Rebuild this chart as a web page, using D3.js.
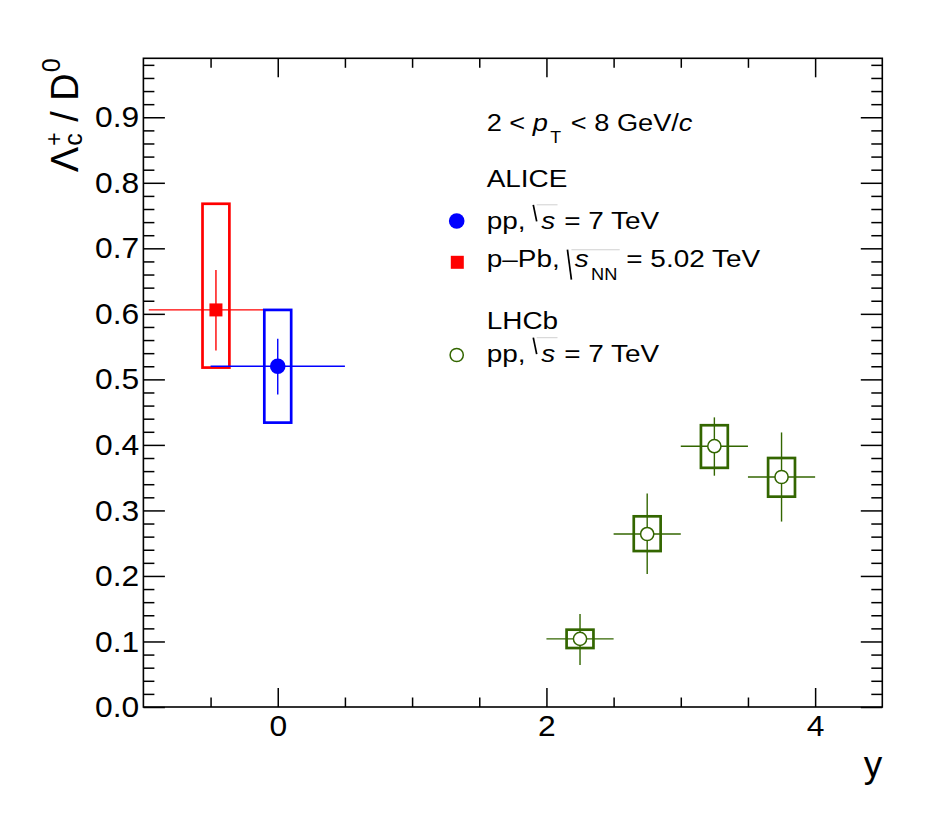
<!DOCTYPE html>
<html>
<head>
<meta charset="utf-8">
<script src="https://cdn.jsdelivr.net/npm/d3@7"></script>
<style>
  html, body { margin: 0; padding: 0; background: #fff; }
  svg { display: block; font-family: "Liberation Sans", Arial, Helvetica, sans-serif; }
  svg text { white-space: pre; }
</style>
</head>
<body>
<svg id="chart" width="950" height="833"></svg>
<script>
// =============================================
//  Lambda_c+ / D0 ratio vs rapidity
//  ALICE pp, ALICE p-Pb, LHCb pp
// =============================================

// ── ALICE pp, sqrt(s) = 7 TeV ──────────────────────────────────────
const ppX       = [0];
const ppXLow    = [-0.5];
const ppXHigh   = [0.5];
const ppRatio   = [0.520];
const ppStatLo  = [0.477];
const ppStatHi  = [0.562];
const ppSysLo   = [0.434];
const ppSysHi   = [0.606];

// ── ALICE p-Pb, sqrt(sNN) = 5.02 TeV ───────────────────────────────
const pPbX      = [-0.46];
const pPbXLow   = [-0.96];
const pPbXHigh  = [0.04];
const pPbRatio  = [0.606];
const pPbStatLo = [0.544];
const pPbStatHi = [0.667];
const pPbSysLo  = [0.518];
const pPbSysHi  = [0.768];

// ── LHCb pp, sqrt(s) = 7 TeV ───────────────────────────────────────
const lhcbX      = [2.25, 2.75, 3.25, 3.75];
const lhcbXLow   = [2.0, 2.5, 3.0, 3.5];
const lhcbXHigh  = [2.5, 3.0, 3.5, 4.0];
const lhcbRatio  = [0.104, 0.264, 0.398, 0.351];
const lhcbStatLo = [0.064, 0.203, 0.353, 0.283];
const lhcbStatHi = [0.142, 0.326, 0.442, 0.419];
const lhcbSysLo  = [0.090, 0.238, 0.365, 0.321];
const lhcbSysHi  = [0.118, 0.291, 0.430, 0.380];

// ── Axis ticks ─────────────────────────────────────────────────────
const xMajorTicks = [0, 2, 4];
const xMinorTicks = [-0.5, 0.5, 1, 1.5, 2.5, 3, 3.5];
const yMajorTicks = [0, 0.1, 0.2, 0.3, 0.4, 0.5, 0.6, 0.7, 0.8, 0.9];
const yMinorTicks = d3.range(0, 50).map(i => i * 0.02).filter(v => Math.round(v * 50) % 5 !== 0);

const SYS_HALF = 0.1;   // half width of systematic boxes in y units

const GREEN = "#336600";

// ── SVG setup ──────────────────────────────────────────────────────
const svg = d3.select("#chart");
const frame = { left: 143.4, right: 882.3, top: 58.3, bottom: 707 };

const x = d3.scaleLinear().domain([-1, 4.5]).range([frame.left, frame.right]);
const y = d3.scaleLinear().domain([0, 0.99]).range([frame.bottom, frame.top]);

// ── Axes (ticks inside the frame, ROOT style) ──────────────────────
function styleAxis(g, fontSize) {
  g.select(".domain").remove();
  g.selectAll(".tick line").attr("stroke", "#000").attr("stroke-width", 1.5);
  g.selectAll(".tick text")
    .attr("fill", "#000")
    .attr("font-size", fontSize)
    .attr("font-family", "Liberation Sans, Arial, sans-serif")
    .attr("transform", `scale(1.06,1)`);
}

svg.append("g")
  .attr("transform", `translate(0,${frame.bottom})`)
  .call(d3.axisBottom(x).tickValues(xMajorTicks).tickSize(-19).tickPadding(8).tickFormat(d3.format("d")))
  .call(g => styleAxis(g, 30));
svg.append("g")
  .attr("transform", `translate(0,${frame.bottom})`)
  .call(d3.axisBottom(x).tickValues(xMinorTicks).tickSize(-9.5).tickFormat(""))
  .call(g => styleAxis(g, 0));
svg.append("g")
  .attr("transform", `translate(0,${frame.top})`)
  .call(d3.axisTop(x).tickValues(xMajorTicks).tickSize(-19).tickFormat(""))
  .call(g => styleAxis(g, 0));
svg.append("g")
  .attr("transform", `translate(0,${frame.top})`)
  .call(d3.axisTop(x).tickValues(xMinorTicks).tickSize(-9.5).tickFormat(""))
  .call(g => styleAxis(g, 0));

svg.append("g")
  .attr("transform", `translate(${frame.left},0)`)
  .call(d3.axisLeft(y).tickValues(yMajorTicks).tickSize(-21.5).tickPadding(4).tickFormat(d3.format(".1f")))
  .call(g => styleAxis(g, 30));
svg.append("g")
  .attr("transform", `translate(${frame.left},0)`)
  .call(d3.axisLeft(y).tickValues(yMinorTicks).tickSize(-11).tickFormat(""))
  .call(g => styleAxis(g, 0));
svg.append("g")
  .attr("transform", `translate(${frame.right},0)`)
  .call(d3.axisRight(y).tickValues(yMajorTicks).tickSize(-21.5).tickFormat(""))
  .call(g => styleAxis(g, 0));
svg.append("g")
  .attr("transform", `translate(${frame.right},0)`)
  .call(d3.axisRight(y).tickValues(yMinorTicks).tickSize(-11).tickFormat(""))
  .call(g => styleAxis(g, 0));

svg.append("rect")
  .attr("x", frame.left).attr("y", frame.top)
  .attr("width", frame.right - frame.left).attr("height", frame.bottom - frame.top)
  .attr("fill", "none").attr("stroke", "#000").attr("stroke-width", 1.6);

// ── Rich text helper (sub/superscripts, sqrt) ──────────────────────
function richText(parent, x0, base, parts, defSize) {
  let cx = x0;
  let radStart = null, radTop = 0;
  parts.forEach(p => {
    if (p.radStart) {
      radStart = cx + p.w;
      radTop = base + p.top;
      parent.append("line")
        .attr("x1", cx).attr("y1", base + p.top)
        .attr("x2", cx + p.w).attr("y2", base + p.bot)
        .attr("stroke", "#000").attr("stroke-width", 1.5);
      cx += p.w + p.gap;
      return;
    }
    if (p.radEnd) {
      parent.append("line")
        .attr("x1", radStart).attr("y1", radTop)
        .attr("x2", cx + 1).attr("y2", radTop)
        .attr("stroke", "#d0d0d0").attr("stroke-width", 1);
      return;
    }
    if (p.stack) {
      let w = 0;
      p.stack.forEach(s => {
        const t = parent.append("text")
          .attr("x", cx + (s.dx || 0)).attr("y", base + (s.dy || 0))
          .attr("font-size", s.size || defSize)
          .attr("font-style", s.italic ? "italic" : null)
          .text(s.t);
        w = Math.max(w, t.node().getComputedTextLength() + (s.dx || 0));
      });
      cx += w + (p.after || 0);
      return;
    }
    const t = parent.append("text")
      .attr("x", cx + (p.dx || 0)).attr("y", base + (p.dy || 0))
      .attr("font-size", p.size || defSize)
      .attr("font-style", p.italic ? "italic" : null)
      .text(p.t);
    cx += t.node().getComputedTextLength() + (p.dx || 0) + (p.after || 0);
  });
  return cx;
}

// ── Axis titles ────────────────────────────────────────────────────
svg.append("text")
  .attr("x", frame.right).attr("y", 777)
  .attr("text-anchor", "end")
  .attr("font-size", 37)
  .text("y");

const yTitle = svg.append("g");
const titleLen = richText(yTitle, 0, 0, [
  { t: "\u039B", after: 1 },
  { stack: [ { t: "c", size: 25, dy: 4 }, { t: "+", size: 23, dy: -16 } ] },
  { t: " / D", after: 1 },
  { t: "0", size: 25, dy: -18 }
], 38);
yTitle.attr("transform", `translate(77.5,${frame.top + titleLen}) rotate(-90)`);

// ── Data drawing ───────────────────────────────────────────────────
function drawSeries(xs, xLo, xHi, vals, sLo, sHi, sysLo, sysHi, color, marker) {
  const g = svg.append("g");
  const idx = d3.range(xs.length);

  // horizontal bars (bin width)
  g.selectAll("line.h").data(idx).join("line").attr("class", "h")
    .attr("x1", i => x(xLo[i])).attr("x2", i => x(xHi[i]))
    .attr("y1", i => y(vals[i])).attr("y2", i => y(vals[i]))
    .attr("stroke", color).attr("stroke-width", 1.4);
  // statistical errors
  g.selectAll("line.v").data(idx).join("line").attr("class", "v")
    .attr("x1", i => x(xs[i])).attr("x2", i => x(xs[i]))
    .attr("y1", i => y(sLo[i])).attr("y2", i => y(sHi[i]))
    .attr("stroke", color).attr("stroke-width", 1.4);
  // systematic boxes
  g.selectAll("rect.sys").data(idx).join("rect").attr("class", "sys")
    .attr("x", i => x(xs[i] - SYS_HALF))
    .attr("width", i => x(xs[i] + SYS_HALF) - x(xs[i] - SYS_HALF))
    .attr("y", i => y(sysHi[i]))
    .attr("height", i => y(sysLo[i]) - y(sysHi[i]))
    .attr("fill", "none").attr("stroke", color).attr("stroke-width", 2.7);
  // markers
  if (marker === "square") {
    g.selectAll("rect.m").data(idx).join("rect").attr("class", "m")
      .attr("x", i => x(xs[i]) - 6.5).attr("y", i => y(vals[i]) - 6.5)
      .attr("width", 13).attr("height", 13).attr("fill", color);
  } else if (marker === "circle") {
    g.selectAll("circle.m").data(idx).join("circle").attr("class", "m")
      .attr("cx", i => x(xs[i])).attr("cy", i => y(vals[i]))
      .attr("r", 7.8).attr("fill", color);
  } else {
    g.selectAll("circle.m").data(idx).join("circle").attr("class", "m")
      .attr("cx", i => x(xs[i])).attr("cy", i => y(vals[i]))
      .attr("r", 6.6).attr("fill", "#fff").attr("stroke", color).attr("stroke-width", 1.5);
  }
}

drawSeries(pPbX, pPbXLow, pPbXHigh, pPbRatio, pPbStatLo, pPbStatHi, pPbSysLo, pPbSysHi, "#ff0000", "square");
drawSeries(ppX, ppXLow, ppXHigh, ppRatio, ppStatLo, ppStatHi, ppSysLo, ppSysHi, "#0000ff", "circle");
drawSeries(lhcbX, lhcbXLow, lhcbXHigh, lhcbRatio, lhcbStatLo, lhcbStatHi, lhcbSysLo, lhcbSysHi, GREEN, "open");

// ── Legend ─────────────────────────────────────────────────────────
const leg = svg.append("g");
const LX = 486.7;

function legendRow(base, parts, size, sx) {
  const g = leg.append("g").attr("transform", `translate(${LX},${base}) scale(${sx},1)`);
  richText(g, 0, 0, parts, size);
}

legendRow(130.7, [
  { t: "2 < " },
  { t: "p", italic: true, after: 2 },
  { t: "T", size: 16, dy: 12.6, after: 2 },
  { t: " < 8 GeV/" },
  { t: "c", italic: true }
], 24.5, 1.11);

legendRow(187.3, [{ t: "ALICE" }], 24.5, 1.14);

leg.append("circle").attr("cx", 456.7).attr("cy", 221).attr("r", 7.8).attr("fill", "#0000ff");
legendRow(228.8, [
  { t: "pp, " },
  { radStart: true, top: -24, bot: -7.5, w: 3, gap: 4 },
  { t: "s", italic: true, after: 1 },
  { radEnd: true },
  { t: " = 7 TeV" }
], 24.5, 1.14);

leg.append("rect").attr("x", 450.8).attr("y", 255.8).attr("width", 13).attr("height", 13).attr("fill", "#ff0000");
legendRow(266.7, [
  { t: "p\u2013Pb, " },
  { radStart: true, top: -17, bot: 13, w: 3.5, gap: 3 },
  { t: "s", italic: true, after: 2 },
  { t: "NN", size: 16, dy: 13.3, after: 1 },
  { radEnd: true },
  { t: " = 5.02 TeV" }
], 24.5, 1.14);

legendRow(329.3, [{ t: "LHCb" }], 24.5, 1.14);

leg.append("circle").attr("cx", 456.7).attr("cy", 355).attr("r", 6.6)
  .attr("fill", "#fff").attr("stroke", GREEN).attr("stroke-width", 1.5);
legendRow(361.7, [
  { t: "pp, " },
  { radStart: true, top: -24, bot: -7.5, w: 3, gap: 4 },
  { t: "s", italic: true, after: 1 },
  { radEnd: true },
  { t: " = 7 TeV" }
], 24.5, 1.14);
</script>
</body>
</html>
